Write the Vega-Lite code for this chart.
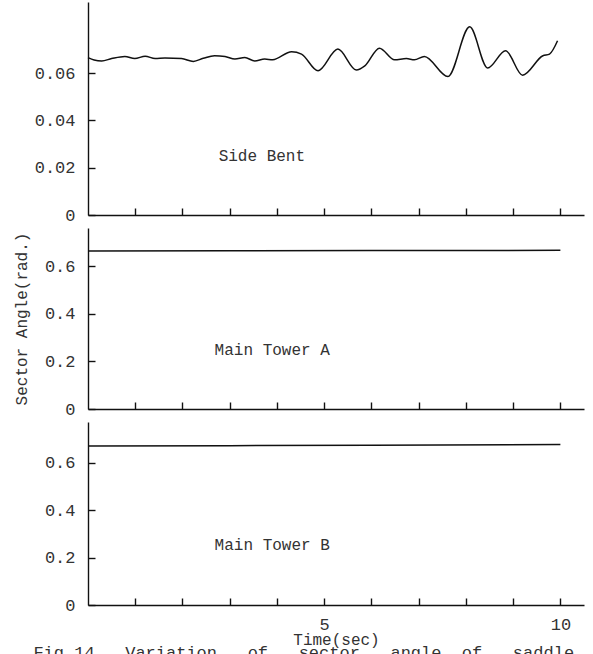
{
  "$schema": "https://vega.github.io/schema/vega-lite/v6.json",
  "padding": {"left": 13, "top": 2, "right": 4, "bottom": 0},
  "background": "white",
  "config": {
    "font": "Liberation Mono",
    "view": {"stroke": null},
    "axis": {
      "grid": false,
      "domainColor": "#111",
      "domainWidth": 1.4,
      "tickColor": "#111",
      "tickWidth": 1.4,
      "tickSize": -7,
      "labelFont": "Liberation Mono",
      "labelFontSize": 17,
      "labelColor": "#333",
      "titleFont": "Liberation Mono",
      "titleFontSize": 16,
      "titleFontWeight": "normal",
      "titleColor": "#333"
    }
  },
  "datasets": {
    "side": [
      {"t": 0.0, "v": 0.0665}, {"t": 0.13, "v": 0.0655}, {"t": 0.29, "v": 0.0651}, {"t": 0.5, "v": 0.0661},
      {"t": 0.78, "v": 0.067}, {"t": 0.99, "v": 0.0661}, {"t": 1.21, "v": 0.0671}, {"t": 1.42, "v": 0.0661},
      {"t": 1.63, "v": 0.0663}, {"t": 1.98, "v": 0.0661}, {"t": 2.23, "v": 0.0649}, {"t": 2.44, "v": 0.0662},
      {"t": 2.68, "v": 0.0673}, {"t": 2.9, "v": 0.067}, {"t": 3.11, "v": 0.0659}, {"t": 3.32, "v": 0.0665},
      {"t": 3.53, "v": 0.0651}, {"t": 3.74, "v": 0.0659}, {"t": 3.91, "v": 0.0656}, {"t": 4.31, "v": 0.069},
      {"t": 4.52, "v": 0.068}, {"t": 4.87, "v": 0.0609}, {"t": 5.29, "v": 0.0701}, {"t": 5.68, "v": 0.0613},
      {"t": 5.86, "v": 0.063}, {"t": 6.17, "v": 0.0705}, {"t": 6.49, "v": 0.0656}, {"t": 6.74, "v": 0.0661},
      {"t": 6.91, "v": 0.0656}, {"t": 7.12, "v": 0.067}, {"t": 7.62, "v": 0.0585}, {"t": 8.08, "v": 0.0795},
      {"t": 8.46, "v": 0.0621}, {"t": 8.84, "v": 0.0694}, {"t": 9.2, "v": 0.0591}, {"t": 9.63, "v": 0.0673},
      {"t": 9.77, "v": 0.068}, {"t": 9.94, "v": 0.0736}
    ],
    "towerA": [
      {"t": 0.0, "v": 0.665}, {"t": 3.0, "v": 0.666}, {"t": 6.0, "v": 0.667}, {"t": 10.0, "v": 0.668}
    ],
    "towerB": [
      {"t": 0.0, "v": 0.671}, {"t": 3.0, "v": 0.672}, {"t": 6.0, "v": 0.674}, {"t": 10.0, "v": 0.677}
    ],
    "labels": [
      {"panel": "side", "t": 3.68, "v": 0.025, "text": "Side Bent"},
      {"panel": "A", "t": 3.9, "v": 0.248, "text": "Main Tower A"},
      {"panel": "B", "t": 3.9, "v": 0.253, "text": "Main Tower B"}
    ]
  },
  "spacing": 5,
  "vconcat": [
    {
      "width": 496,
      "height": 213,
      "layer": [
        {
          "data": {"name": "side"},
          "mark": {"type": "line", "color": "#111", "strokeWidth": 1.5, "interpolate": "monotone"},
          "encoding": {
            "x": {"field": "t", "type": "quantitative", "scale": {"domain": [0, 10.5], "nice": false},
              "axis": {"values": [1,2,3,4,5,6,7,8,9,10], "labels": false, "title": null}},
            "y": {"field": "v", "type": "quantitative", "scale": {"domain": [0, 0.09], "nice": false},
              "axis": {"values": [0, 0.02, 0.04, 0.06], "labelExpr": "datum.value == 0 ? '0' : format(datum.value, '.2f')", "title": null, "labelPadding": 20}}
          }
        },
        {
          "data": {"name": "labels"},
          "transform": [{"filter": "datum.panel == 'side'"}],
          "mark": {"type": "text", "font": "Liberation Mono", "fontSize": 16, "color": "#333"},
          "encoding": {
            "x": {"field": "t", "type": "quantitative"},
            "y": {"field": "v", "type": "quantitative"},
            "text": {"field": "text"}
          }
        }
      ]
    },
    {
      "width": 496,
      "height": 181,
      "layer": [
        {
          "data": {"name": "towerA"},
          "mark": {"type": "line", "color": "#111", "strokeWidth": 1.5},
          "encoding": {
            "x": {"field": "t", "type": "quantitative", "scale": {"domain": [0, 10.5], "nice": false},
              "axis": {"values": [1,2,3,4,5,6,7,8,9,10], "labels": false, "title": null}},
            "y": {"field": "v", "type": "quantitative", "scale": {"domain": [0, 0.762], "nice": false},
              "axis": {"values": [0, 0.2, 0.4, 0.6], "labelExpr": "datum.value == 0 ? '0' : format(datum.value, '.1f')", "title": "Sector Angle(rad.)", "labelPadding": 20, "titlePadding": 15}}
          }
        },
        {
          "data": {"name": "labels"},
          "transform": [{"filter": "datum.panel == 'A'"}],
          "mark": {"type": "text", "font": "Liberation Mono", "fontSize": 16, "color": "#333"},
          "encoding": {
            "x": {"field": "t", "type": "quantitative"},
            "y": {"field": "v", "type": "quantitative"},
            "text": {"field": "text"}
          }
        }
      ]
    },
    {
      "width": 496,
      "height": 183,
      "layer": [
        {
          "data": {"name": "towerB"},
          "mark": {"type": "line", "color": "#111", "strokeWidth": 1.5},
          "encoding": {
            "x": {"field": "t", "type": "quantitative", "scale": {"domain": [0, 10.5], "nice": false},
              "axis": {"values": [1,2,3,4,5,6,7,8,9,10], "labelExpr": "datum.value == 5 || datum.value == 10 ? datum.label : ''", "title": "Time(sec)", "labelPadding": 18, "titlePadding": -1}},
            "y": {"field": "v", "type": "quantitative", "scale": {"domain": [0, 0.772], "nice": false},
              "axis": {"values": [0, 0.2, 0.4, 0.6], "labelExpr": "datum.value == 0 ? '0' : format(datum.value, '.1f')", "title": null, "labelPadding": 20}}
          }
        },
        {
          "data": {"name": "labels"},
          "transform": [{"filter": "datum.panel == 'B'"}],
          "mark": {"type": "text", "font": "Liberation Mono", "fontSize": 16, "color": "#333"},
          "encoding": {
            "x": {"field": "t", "type": "quantitative"},
            "y": {"field": "v", "type": "quantitative"},
            "text": {"field": "text"}
          }
        }
      ]
    }
  ],
  "title": {"text": "Fig.14\u00a0\u00a0\u00a0Variation\u00a0\u00a0\u00a0of\u00a0\u00a0\u00a0sector\u00a0\u00a0\u00a0angle\u00a0\u00a0of\u00a0\u00a0\u00a0saddle", "orient": "bottom", "anchor": "start", "frame": "bounds", "dx": 20, "font": "Liberation Mono", "fontSize": 17, "fontWeight": "normal", "color": "#333", "offset": -2}
}
